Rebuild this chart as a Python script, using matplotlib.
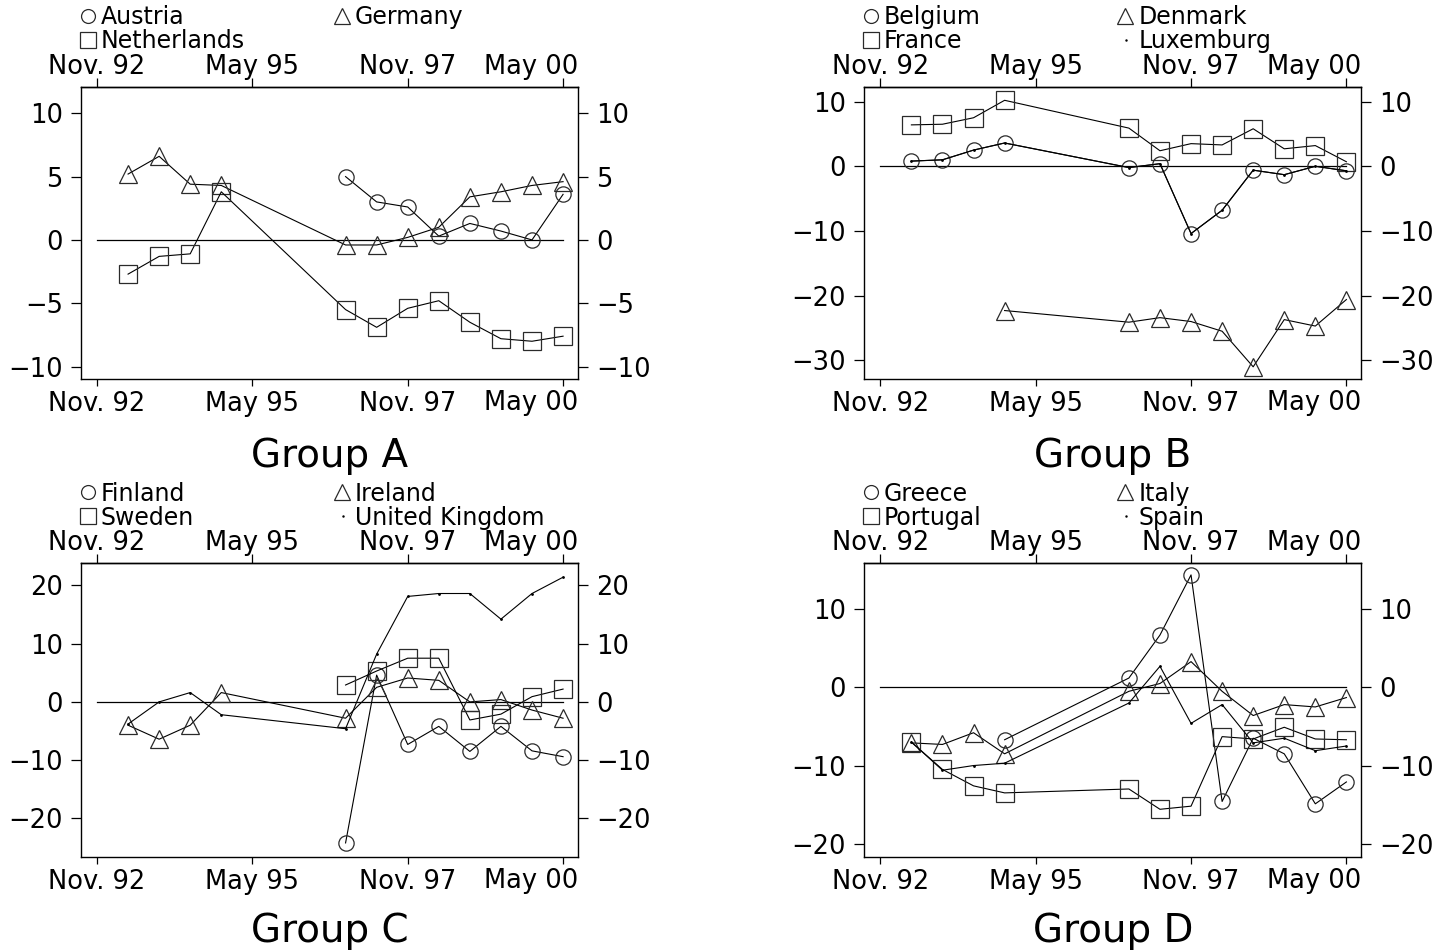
import matplotlib
matplotlib.use("Agg")
import matplotlib.pyplot as plt
import matplotlib.transforms as mtransforms

plt.rcParams["font.family"] = ["DejaVu Sans"]

# Survey waves counted in half-years from Nov. 92 (1 = May 93, 15 = May 00)
waves = [1, 2, 3, 4, 8, 9, 10, 11, 12, 13, 14, 15]
waves_nov94 = waves[3:]
waves_nov96 = waves[4:]

date_ticks = [0, 5, 10, 15]
date_labels = ["Nov. 92", "May 95", "Nov. 97", "May 00"]

# Group A
austria = [5.0, 3.0, 2.6, 0.3, 1.3, 0.7, 0.0, 3.6]
germany = [5.2, 6.6, 4.4, 4.3, -0.4, -0.4, 0.2, 1.0, 3.4, 3.8, 4.3, 4.6]
netherlands = [-2.7, -1.3, -1.1, 3.8, -5.5, -6.9, -5.4, -4.8, -6.5, -7.8, -8.0, -7.6]

# Group B
belgium = [0.8, 1.0, 2.5, 3.6, -0.2, 0.4, -10.4, -6.8, -0.6, -1.3, 0.0, -0.7]
denmark = [-22.3, -24.1, -23.4, -24.0, -25.5, -31.0, -23.7, -24.7, -20.6]
france = [6.4, 6.5, 7.5, 10.2, 5.9, 2.4, 3.5, 3.3, 5.8, 2.7, 3.2, 0.7]
luxemburg = [0.8, 1.0, 2.5, 3.6, -0.2, 0.4, -10.4, -6.8, -0.6, -1.3, 0.0, -0.7]

# Group C
finland = [-24.2, 4.6, -7.3, -4.2, -8.5, -4.2, -8.4, -9.4]
ireland = [-4.0, -6.4, -4.0, 1.6, -2.8, 2.5, 4.1, 3.7, 0.0, 0.4, -1.4, -2.8]
sweden = [2.9, 5.3, 7.5, 7.5, -3.1, -2.1, 0.9, 2.2]
united_kingdom = [-3.8, 0.0, 1.6, -2.2, -4.6, 8.2, 18.1, 18.6, 18.6, 14.2, 18.6, 21.4]

# Group D
greece = [-6.7, 1.2, 6.7, 14.4, -14.6, -6.5, -8.5, -14.9, -12.1]
italy = [-7.1, -7.3, -5.8, -8.5, -0.5, 0.5, 3.3, -0.5, -3.6, -2.2, -2.5, -1.3]
portugal = [-7.0, -10.5, -12.6, -13.5, -13.0, -15.6, -15.2, -6.3, -6.6, -5.1, -6.6, -6.7]
spain = [-7.0, -10.6, -10.0, -9.7, -2.0, 2.7, -4.6, -2.2, -7.1, -6.5, -8.1, -7.5]

TICK_FONT = 18.5
KEY_FONT = 17
TITLE_FONT = 28
MARKER_SIZE = {"o": 11, "^": 13, "s": 12.5}
LEGEND_SIZE = {"o": 10, "^": 12, "s": 12}


def draw_group(fig, rect, title, title_x, title_y, series, ylim, yticks):
    """Draw one group panel with its symbol key above it."""
    ax = fig.add_axes(rect)
    ax.plot([0, 15], [0, 0], color="black", lw=0.9)

    for name, x, y, marker in series:
        ax.plot(x, y, color="black", lw=0.8)
        if marker:
            ax.plot(x, y, ls="none", marker=marker, ms=MARKER_SIZE[marker],
                    mfc="none", mec="#2a2a2a", mew=0.9)
        else:
            ax.plot(x, y, ls="none", marker=".", ms=2, color="black")

    ax.set_xlim(-0.52, 15.48)
    ax.set_ylim(*ylim)
    ax.set_yticks(yticks)
    ax.tick_params(axis="y", left=True, right=True, labelleft=True, labelright=True,
                   direction="out", length=7, width=0.9, pad=6, labelsize=TICK_FONT)
    ax.set_xticks(date_ticks, date_labels[:3] + [""])
    ax.tick_params(axis="x", direction="out", length=5, width=0.9, pad=3.0,
                   labelsize=TICK_FONT)
    for sp in ax.spines.values():
        sp.set_linewidth(1.0)

    top = ax.secondary_xaxis("top")
    top.set_xticks(date_ticks, date_labels[:3] + [""])
    top.tick_params(direction="out", length=6.5, width=0.9, pad=-1.0, labelsize=TICK_FONT)
    top.spines["top"].set_linewidth(1.0)

    # last date label sits flush with the right edge of the frame
    ax.annotate(date_labels[3], xy=(1, 0), xycoords="axes fraction", xytext=(0, -11.0),
                textcoords="offset pixels", ha="right", va="top", fontsize=TICK_FONT,
                annotation_clip=False)
    ax.annotate(date_labels[3], xy=(1, 1), xycoords="axes fraction", xytext=(0, 13.3),
                textcoords="offset pixels", ha="right", va="baseline", fontsize=TICK_FONT,
                annotation_clip=False)

    # symbol key, two columns and two rows above the top axis
    columns = [(-0.3, 0.12), (7.87, 8.3)]
    rows = [62.8, 38.9]
    for i, (name, x, y, marker) in enumerate(series):
        mx, tx = columns[i % 2]
        dy = rows[i // 2]
        ax.annotate(name, xy=(tx, 1), xycoords=("data", "axes fraction"), xytext=(0, dy),
                    textcoords="offset pixels", ha="left", va="baseline", fontsize=KEY_FONT,
                    annotation_clip=False)
        trans = (mtransforms.blended_transform_factory(ax.transData, ax.transAxes)
                 + mtransforms.ScaledTranslation(0, (dy + 8.6) / fig.dpi, fig.dpi_scale_trans))
        if marker:
            ax.plot([mx], [1], transform=trans, clip_on=False, ls="none", marker=marker,
                    ms=LEGEND_SIZE[marker], mfc="none", mec="#2a2a2a", mew=0.9)
        else:
            ax.plot([mx + 0.05], [1], transform=trans, clip_on=False, ls="none",
                    marker=".", ms=1.5, color="black")

    fig.text(title_x, title_y, title, ha="center", va="baseline", fontsize=TITLE_FONT)
    return ax


def plot_groups():
    """Build the four group panels and save the figure."""
    fig = plt.figure(figsize=(14.41, 9.51), dpi=100)

    left_col, right_col, width = 0.0561, 0.5997, 0.3450
    top_row, top_h = 0.60095, 0.30726
    bottom_row, bottom_h = 0.09832, 0.30915

    draw_group(fig, [left_col, top_row, width, top_h], "Group A", 0.229, 0.509,
               [("Austria", waves_nov96, austria, "o"),
                ("Germany", waves, germany, "^"),
                ("Netherlands", waves, netherlands, "s")],
               (-11.02, 12.05), [-10, -5, 0, 5, 10])

    draw_group(fig, [right_col, top_row, width, top_h], "Group B", 0.7724, 0.509,
               [("Belgium", waves, belgium, "o"),
                ("Denmark", waves_nov94, denmark, "^"),
                ("France", waves, france, "s"),
                ("Luxemburg", waves, luxemburg, None)],
               (-32.96, 12.21), [-30, -20, -10, 0, 10])

    draw_group(fig, [left_col, bottom_row, width, bottom_h], "Group C", 0.229, 0.0095,
               [("Finland", waves_nov96, finland, "o"),
                ("Ireland", waves, ireland, "^"),
                ("Sweden", waves_nov96, sweden, "s"),
                ("United Kingdom", waves, united_kingdom, None)],
               (-26.7, 23.75), [-20, -10, 0, 10, 20])

    draw_group(fig, [right_col, bottom_row, width, bottom_h], "Group D", 0.7724, 0.0095,
               [("Greece", waves_nov94, greece, "o"),
                ("Italy", waves, italy, "^"),
                ("Portugal", waves, portugal, "s"),
                ("Spain", waves, spain, None)],
               (-21.77, 15.86), [-20, -10, 0, 10])

    fig.savefig("out.png", dpi=100)


if __name__ == "__main__":
    plot_groups()
